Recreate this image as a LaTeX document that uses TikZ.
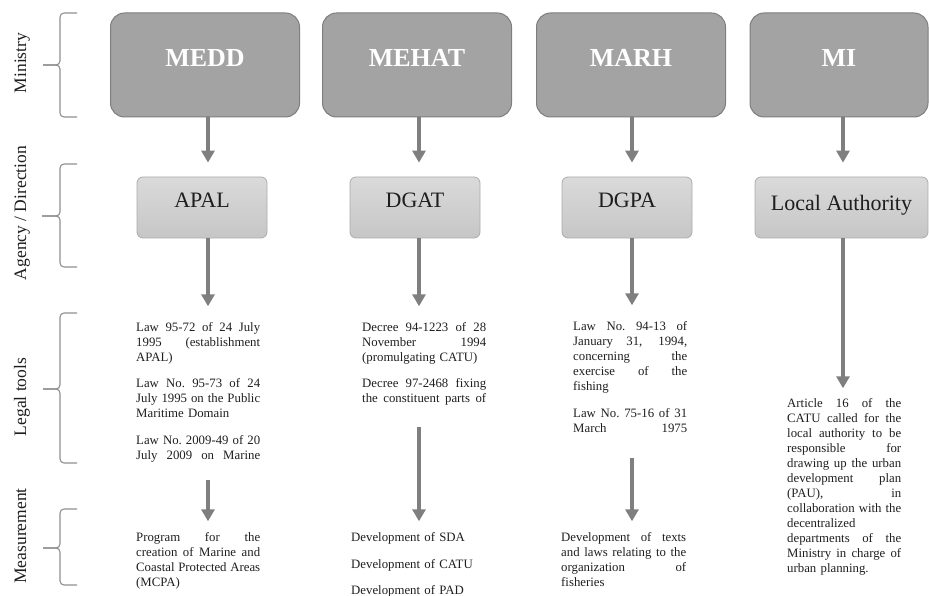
\documentclass[tikz,border=0pt]{standalone}
\usepackage{fontspec}
\setmainfont{Liberation Serif}
\usetikzlibrary{arrows.meta}
\setlength{\parindent}{0pt}
\definecolor{minfill}{HTML}{A3A3A3}
\definecolor{minedge}{HTML}{7E7E7E}
\definecolor{agtop}{HTML}{DADADA}
\definecolor{agbot}{HTML}{C6C6C6}
\definecolor{agedge}{HTML}{ABABAB}
\definecolor{arrgray}{HTML}{7F7F7F}
\definecolor{bracegray}{HTML}{8F8F8F}
\definecolor{txt}{HTML}{1E1E1E}
\newcommand\J[2]{\leavevmode\hbox to #1{\spaceskip=3pt plus 1fil\xspaceskip=3pt plus 1fil\relax #2}}
\tikzset{
  minbox/.style={draw=minedge, fill=minfill, rounded corners=14pt, minimum width=189pt,
    minimum height=104pt, line width=1pt, text=white, font=\fontsize{26}{30}\selectfont\bfseries,
    text height=14pt, text depth=10pt, inner sep=0pt},
  agbox/.style={draw=agedge, top color=agtop, bottom color=agbot, rounded corners=6pt,
    minimum width=130pt, minimum height=61pt, line width=0.8pt, font=\fontsize{22}{26}\selectfont,
    text=txt, text height=12pt, text depth=11pt, inner sep=0pt},
  arr/.style={draw=arrgray, line width=4.5pt, -{Triangle[width=13pt,length=12pt]}},
  body/.style={anchor=north west, inner sep=0pt, text=txt, font=\fontsize{12.8}{15}\selectfont, align=left,
    text width=#1},
  lab/.style={rotate=90, anchor=base, font=\fontsize{17.5}{20}\selectfont, text=txt, inner sep=0pt},
  brace/.style={draw=bracegray, line width=1.1pt, rounded corners=4pt},
}
\begin{document}
\begin{tikzpicture}[x=1pt,y=-1pt]
\useasboundingbox (0,0) rectangle (929,596);
% column axes
\coordinate (cA) at (208,0);
\coordinate (cB) at (419,0);
\coordinate (cC) at (632,0);
\coordinate (cD) at (843,0);
% left labels and braces
\node[lab] (lmin) at (26,63) {Ministry};
\node[lab] (lag) at (26,213) {Agency / Direction};
\node[lab] (lleg) at (26,397) {Legal tools};
\node[lab] (lmea) at (26,536) {Measurement};
\draw[brace] (77,13) -- (60,13) -- (60,65) -- (43,65);
\draw[brace] (43,65) -- (60,65) -- (60,117) -- (77,117);
\draw[brace] (77,164) -- (60,164) -- (60,216) -- (42,216);
\draw[brace] (42,216) -- (60,216) -- (60,267) -- (77,267);
\draw[brace] (77,313) -- (60,313) -- (60,389) -- (43,389);
\draw[brace] (43,389) -- (60,389) -- (60,463) -- (77,463);
\draw[brace] (77,509) -- (60,509) -- (60,548) -- (43,548);
\draw[brace] (43,548) -- (60,548) -- (60,585) -- (77,585);
% ministries
\node[minbox] (medd) at (205,65) {MEDD};
\node[minbox] (mehat) at (417,65) {MEHAT};
\node[minbox] (marh) at (631,65) {MARH};
\node[minbox, minimum width=178pt] (mi) at (839,65) {MI};
% agencies
\node[agbox] (apal) at (202,207.5) {APAL};
\node[agbox] (dgat) at (415,207.5) {DGAT};
\node[agbox] (dgpa) at (627,207.5) {DGPA};
\node[agbox, minimum width=173pt, text height=15pt, text depth=8pt] (la) at (841.5,207.5) {Local Authority};
% legal tools
\node[body=124pt] (legA) at (136,322.3) {%
\J{124pt}{Law 95-72 of 24 July}\\
\J{124pt}{1995 (establishment}\\
APAL)\\[11pt]
\J{124pt}{Law No. 95-73 of 24}\\
\J{124pt}{July 1995 on the Public}\\
Maritime Domain\\[12pt]
\J{124pt}{Law No. 2009-49 of 20}\\
\J{124pt}{July 2009 on Marine}};
\node[body=124pt] (legB) at (362,322.3) {%
\J{124pt}{Decree 94-1223 of 28}\\
\J{124pt}{November 1994}\\
(promulgating CATU)\\[11pt]
\J{124pt}{Decree 97-2468 fixing}\\
\J{124pt}{the constituent parts of}};
\node[body=114pt] (legC) at (573,321.3) {%
\J{114pt}{Law No. 94-13 of}\\
\J{114pt}{January 31, 1994,}\\
\J{114pt}{concerning the}\\
\J{114pt}{exercise of the}\\
fishing\\[12pt]
\J{114pt}{Law No. 75-16 of 31}\\
\J{114pt}{March 1975}};
\node[body=114pt] (legD) at (787,398.3) {%
\J{114pt}{Article 16 of the}\\
\J{114pt}{CATU called for the}\\
\J{114pt}{local authority to be}\\
\J{114pt}{responsible for}\\
\J{114pt}{drawing up the urban}\\
\J{114pt}{development plan}\\
\J{114pt}{(PAU), in}\\
\J{114pt}{collaboration with the}\\
decentralized\\
\J{114pt}{departments of the}\\
\J{114pt}{Ministry in charge of}\\
urban planning.};
% measurements
\node[body=124pt] (meaA) at (136,532.3) {%
\J{124pt}{Program for the}\\
\J{124pt}{creation of Marine and}\\
\J{124pt}{Coastal Protected Areas}\\
(MCPA)};
\node[body=130pt] (meaB) at (351,532.3) {%
Development of SDA\\[12pt]
Development of CATU\\[11pt]
Development of PAD};
\node[body=125pt] (meaC) at (561,532.3) {%
\J{125pt}{Development of texts}\\
\J{125pt}{and laws relating to the}\\
\J{125pt}{organization of}\\
fisheries};
% arrows ministry -> agency
\draw[arr, shorten >=14pt] (medd.south -| cA) -- (apal.north -| cA);
\draw[arr, shorten >=14pt] (mehat.south -| cB) -- (dgat.north -| cB);
\draw[arr, shorten >=14pt] (marh.south -| cC) -- (dgpa.north -| cC);
\draw[arr, shorten >=14pt] (mi.south -| cD) -- (la.north -| cD);
% arrows agency -> legal tools
\draw[arr, shorten >=16pt] (apal.south -| cA) -- (legA.north -| cA);
\draw[arr, shorten >=16pt] (dgat.south -| cB) -- (legB.north -| cB);
\draw[arr, shorten >=16pt] (dgpa.south -| cC) -- (legC.north -| cC);
\draw[arr, shorten >=10pt] (la.south -| cD) -- (legD.north -| cD);
% arrows legal tools -> measurement
\draw[arr, shorten <=18pt, shorten >=11pt] (legA.south -| cA) -- (meaA.north -| cA);
\draw[arr, shorten <=22pt, shorten >=11pt] (legB.south -| cB) -- (meaB.north -| cB);
\draw[arr, shorten <=25pt, shorten >=11pt] (legC.south -| cC) -- (meaC.north -| cC);
\end{tikzpicture}
\end{document}
